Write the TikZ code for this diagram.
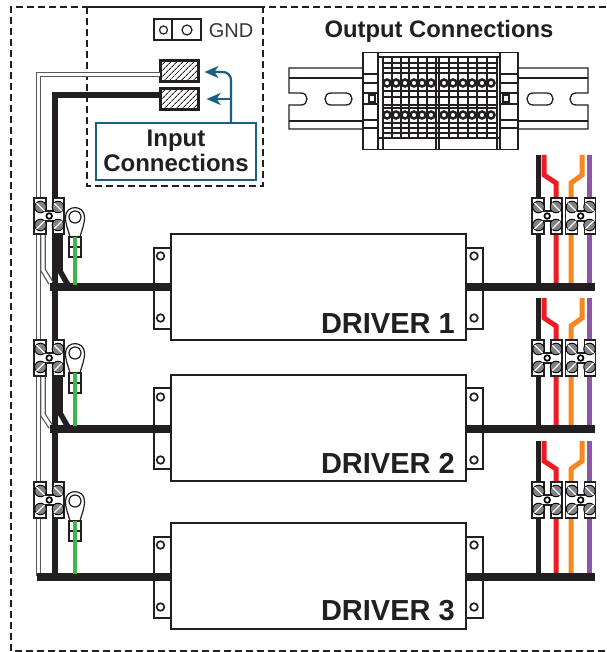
\documentclass[tikz,border=0pt]{standalone}
\usepackage{fontspec}
\setmainfont{Liberation Sans}
\usepackage{xcolor}
\usetikzlibrary{arrows.meta,patterns.meta}
\definecolor{wireblack}{HTML}{231F20}
\definecolor{wirered}{HTML}{ED1C24}
\definecolor{wireorange}{HTML}{F7861E}
\definecolor{wirepurple}{HTML}{8E57A5}
\definecolor{wiregreen}{HTML}{3DB54A}
\definecolor{inputblue}{HTML}{1B5E85}
\definecolor{screwgray}{HTML}{808285}
\tikzset{
	fence/.style = {draw = wireblack, line width = 2.4pt, dash pattern = on 7pt off 4pt},
	driverbox/.style = {draw = wireblack, fill = white, line width = 2.2pt, anchor = north west, inner sep = 0pt, minimum width = 295pt, minimum height = 106pt},
	flange/.style = {draw = wireblack, fill = white, line width = 2.2pt, anchor = north west, inner sep = 0pt, minimum width = 17pt, minimum height = 81pt},
	drilled/.style = {draw = wireblack, fill = white, line width = 1.7pt},
	drivername/.style = {anchor = base east, inner sep = 0pt, text = wireblack, font = \fontsize{29}{29}\selectfont\bfseries},
	bus/.style = {draw = wireblack, line width = 7.5pt},
	blackwire/.style = {draw = wireblack, line width = 5.5pt},
	whitewire/.style = {draw = wireblack!75, line width = 1.3pt, double = white, double distance = 3.2pt},
	hatched/.style = {draw = wireblack, line width = 3.2pt, inner sep = 0pt, minimum width = 38pt, minimum height = 21pt, pattern = {Lines[angle = 45, distance = 4pt, line width = 0.9pt, xshift = 1pt]}, pattern color = wireblack},
	inputarrow/.style = {draw = inputblue, line width = 2.2pt, -{Stealth[length = 14pt, width = 12pt, inset = 4pt]}},
	thinline/.style = {draw = wireblack, line width = 1.2pt},
	railline/.style = {draw = wireblack, line width = 1.3pt},
	screwblock/.pic = {
		\draw[thinline, fill = white] (0,0) -- (12,0) -- (12,13) -- (19,13) -- (19,0) -- (30,0) -- (30,36) -- (19,36) -- (19,23) -- (12,23) -- (12,36) -- (0,36) -- cycle;
		\foreach \sx in {6.5,24} {
			\draw[line width = 0.9pt, fill = screwgray] (\sx,9) circle (5.8pt);
			\draw[line width = 0.9pt, fill = screwgray] (\sx,27) circle (5.8pt);
			\draw[white, line width = 1.2pt] (\sx-4,5) -- (\sx+4,13);
			\draw[white, line width = 1.2pt] (\sx-4,31) -- (\sx+4,23);
		}
		\draw[line width = 1.7pt, fill = white] (15.2,18) circle (2.8pt);
	},
	ringlug/.pic = {
		\draw[thinline, fill = white] (-5,20) .. controls (-7,12) and (-9.5,8) .. (-9.5,0) .. controls (-9.5,-12.5) and (9.5,-12.5) .. (9.5,0) .. controls (9.5,8) and (7,12) .. (5,20) -- cycle;
		\draw[thinline] (0,0) circle (6pt);
		\draw[thinline, fill = white] (-6,20) rectangle (6,40);
		\draw[thinline] (-6,30) -- (6,30);
	}
}
\begin{document}
\begin{tikzpicture}[x = 1pt, y = -1pt, text = wireblack]
	\useasboundingbox (0,0) rectangle (606,652);
	\draw[fence] (606,7) -- (11,7) -- (11,651) -- (606,651);
	\draw[fence] (87,7) rectangle (263,186);

	\node[draw = wireblack, line width = 1.7pt, inner sep = 0pt, minimum width = 47pt, minimum height = 21pt] (gndblock) at (177.5,29.5) {};
	\draw[wireblack, line width = 1.7pt] (172,19) -- (172,40);
	\draw[thinline] (163.5,30) circle (4pt) (187,30) circle (5pt);
	\node[anchor = base, inner sep = 0pt, font = \fontsize{20}{20}\selectfont, text = wireblack!90] (gndtext) at (231,38) {GND};
	\node[anchor = base, inner sep = 0pt, font = \fontsize{23.8}{24}\selectfont\bfseries] (outtext) at (439,38) {Output Connections};

	\node[hatched] (term1) at (179.5,71) {};
	\node[hatched] (term2) at (179.5,99) {};
	\node[draw = inputblue, line width = 2.4pt, inner sep = 0pt, minimum width = 160pt, minimum height = 57pt] (inbox) at (176,151.5) {};
	\node[anchor = base, inner sep = 0pt, font = \fontsize{24}{24}\selectfont\bfseries] (intext1) at (176,147) {Input};
	\node[anchor = base, inner sep = 0pt, font = \fontsize{24}{24}\selectfont\bfseries] (intext2) at (176,172) {Connections};
	\coordinate (stemfoot) at ([xshift = 55pt]inbox.north);
	\coordinate (tip1) at ([xshift = 5.5pt, yshift = -1pt]term1.east);
	\coordinate (tip2) at ([xshift = 6.5pt]term2.east);
	\draw[inputarrow, rounded corners = 8pt] (stemfoot) |- (tip1);
	\draw[inputarrow] (stemfoot |- tip2) -- (tip2);

	% din rail
	\draw[railline] (362,68) -- (289,68) -- (289,93) -- (301,93) .. controls (309,93) and (309,105) .. (301,105) -- (289,105) -- (289,129) -- (362,129);
	\draw[railline] (517,68) -- (588,68) -- (588,93) -- (576,93) .. controls (568,93) and (568,105) .. (576,105) -- (588,105) -- (588,129) -- (517,129);
	\draw[railline] (289,78) -- (362,78) (289,121) -- (362,121) (517,78) -- (588,78) (517,121) -- (588,121);
	\draw[railline] (331,93) -- (346,93) .. controls (354,93) and (354,105) .. (346,105) -- (331,105) .. controls (323,105) and (323,93) .. (331,93);
	\draw[railline] (533,93) -- (547,93) .. controls (555,93) and (555,105) .. (547,105) -- (533,105) .. controls (525,105) and (525,93) .. (533,93);
	\node[draw = wireblack, line width = 1.5pt, inner sep = 0pt, anchor = north west, minimum width = 155pt, minimum height = 97pt] (railblock) at (362,52) {};
	\draw[railline] (378,52) -- (378,149) (383,57) -- (383,149) (497,57) -- (497,149) (500,52) -- (500,149);
	\draw[railline] (378,57) -- (500,57) (378,138) -- (500,138) (436,57) -- (436,149) (439,57) -- (439,149);
	\foreach \ry in {63,68,73,91,97,105,108,123,128,133}
		\draw[railline] (383,\ry) -- (497,\ry);
	\foreach \rx in {392,401,409,418,427,449,458,468,477,487}
		\draw[railline] (\rx,57) -- (\rx,138);
	\foreach \ey in {74,83,93,104,120,128} {
		\draw[railline] (362,\ey) -- (378,\ey);
		\draw[railline] (500,\ey) -- (517,\ey);
	}
	\draw[railline, fill = white] (369,95) rectangle (375,102);
	\draw[railline, fill = white] (503,95) rectangle (509,102);
	\foreach \cx in {387,396,405,414,422,431,444,453,463,472,482,491} {
		\draw[wireblack, line width = 2.5pt, fill = white] (\cx,83) circle (3.5pt);
		\draw[wireblack, line width = 2.5pt, fill = white] (\cx,115) circle (3.5pt);
	}

	% drivers
	\foreach \drv/\boxtop/\flangetop in {1/233/247, 2/374/387, 3/522/536} {
		\node[flange] (left\drv) at (153,\flangetop) {};
		\node[flange] (right\drv) at (465,\flangetop) {};
		\node[driverbox] (driver\drv) at (170,\boxtop) {};
	}
	\foreach \holey in {256,318,397,460,545,607} {
		\draw[drilled] (160.5,\holey) circle (3.8pt);
		\draw[drilled] (474,\holey) circle (3.8pt);
	}
	\node[drivername] (name1) at (455,333) {DRIVER 1};
	\node[drivername] (name2) at (455,473) {DRIVER 2};
	\node[drivername] (name3) at (455,620) {DRIVER 3};

	% input wiring
	\coordinate (whitecorner) at (38.5,74.5);
	\coordinate (whiteend) at (38.5,576);
	\coordinate (blackcorner) at (55,95);
	\coordinate (blackend) at (55,577);
	\draw[whitewire] ([yshift = -3.5pt]term1.west) -- (whitecorner) -- (whiteend);
	\draw[blackwire] ([yshift = 4pt]term2.west) -- (blackcorner) -- (blackend);
	\draw[whitewire] (43,234) -- (43,270) -- (51,283);
	\draw[whitewire] (43,376) -- (43,415) -- (51,427);
	\draw[blackwire] (60,234) -- (60,271) -- (68,285);
	\draw[blackwire] (60,376) -- (60,413) -- (68,427);

	% buses and output wires
	\foreach \tw/\bus/\busleft in {155/287/50, 298/429/50, 441/577/37} {
		\draw[draw = wireblack, line width = 5pt] (538,\tw) -- (538,\bus);
		\draw[draw = wirered, line width = 5pt] (544,\tw) -- (544,\tw+20) -- (556,\tw+28) -- (556,\bus);
		\draw[draw = wireorange, line width = 5pt] (582,\tw) -- (582,\tw+20) -- (571,\tw+28) -- (571,\bus);
		\draw[draw = wirepurple, line width = 5pt] (589,\tw) -- (589,\bus);
		\draw[bus] (\busleft,\bus) -- (170,\bus);
		\draw[bus] (465,\bus) -- (595,\bus);
	}
	\foreach \lugy/\busy in {217/285, 353/426, 501/574} {
		\pic at (75,\lugy) {ringlug};
		\draw[draw = wiregreen, line width = 3.8pt] (75,\lugy+20) -- (75,\busy);
	}
	\foreach \by in {198,340,482} {
		\pic at (34,\by) {screwblock};
		\pic at (532,\by) {screwblock};
		\pic at (565.5,\by) {screwblock};
	}
\end{tikzpicture}
\end{document}
